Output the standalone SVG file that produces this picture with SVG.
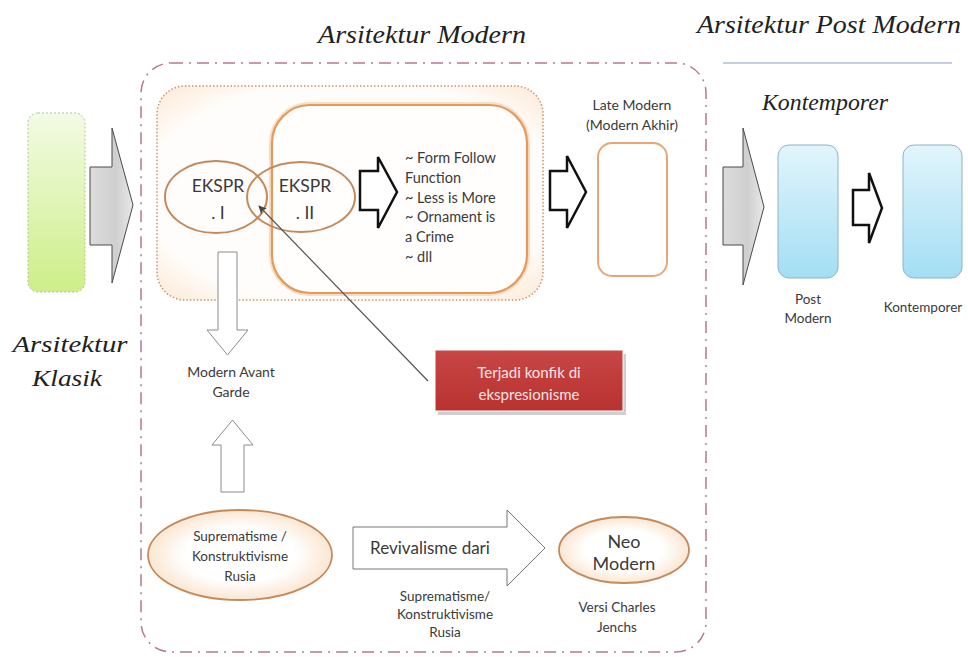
<svg xmlns="http://www.w3.org/2000/svg" width="968" height="657" viewBox="0 0 968 657">
<defs>
<style>
.t{font-family:Lato,"Open Sans","Liberation Sans",sans-serif;fill:#3a3a3a;text-anchor:middle}
.s{font-family:"Liberation Serif","DejaVu Serif",serif;font-style:italic;fill:#222;text-anchor:middle}
.hollow{fill:#fff;stroke:#111;stroke-width:2.5;stroke-linejoin:miter}
.thin{fill:#fff;stroke:#8c8c8c;stroke-width:1}
.gray{fill:url(#gGray);stroke:#4a4a4a;stroke-width:1}
.blue{fill:url(#gBlue);stroke:#8fb3c2;stroke-width:1}
.ell{fill:url(#gEll);stroke:#c58a5c;stroke-width:1.8}
</style>
<linearGradient id="gGreen" x1="0" y1="0" x2="0" y2="1"><stop offset="0" stop-color="#f3fbe4"/><stop offset="1" stop-color="#cdee88"/></linearGradient>
<linearGradient id="gBlue" x1="0" y1="0" x2="0" y2="1"><stop offset="0" stop-color="#e2f5fc"/><stop offset="1" stop-color="#a3def4"/></linearGradient>
<linearGradient id="gGray" x1="0" y1="0" x2="1" y2="0"><stop offset="0" stop-color="#dcdcdc"/><stop offset="0.6" stop-color="#cfcfcf"/><stop offset="1" stop-color="#e8e8e8"/></linearGradient>
<linearGradient id="gRed" x1="0" y1="0" x2="0" y2="1"><stop offset="0" stop-color="#c84646"/><stop offset="1" stop-color="#b8322f"/></linearGradient>
<radialGradient id="gEll" cx="0.5" cy="0.5" r="0.5"><stop offset="0.6" stop-color="#ffffff"/><stop offset="1" stop-color="#fbe6d2"/></radialGradient>
<radialGradient id="gDot" cx="0.5" cy="0.5" r="0.7"><stop offset="0.75" stop-color="#fffdfb"/><stop offset="1" stop-color="#fde9d6"/></radialGradient>
<marker id="ah" viewBox="0 0 10 10" refX="9" refY="5" markerWidth="7" markerHeight="7" orient="auto-start-reverse"><path d="M0,0 L10,5 L0,10 L3,5 Z" fill="#444"/></marker>
</defs>
<rect width="968" height="657" fill="#fff"/>

<!-- headings -->
<g id="titles">
<text class="s" x="422" y="43" font-size="26" textLength="208" lengthAdjust="spacingAndGlyphs">Arsitektur Modern</text>
<text class="s" x="829" y="33" font-size="26" textLength="264" lengthAdjust="spacingAndGlyphs">Arsitektur Post Modern</text>
<line x1="723" y1="63" x2="952" y2="63" stroke="#c3cfe0" stroke-width="2"/>
<text class="s" x="825" y="110" font-size="24" textLength="126" lengthAdjust="spacingAndGlyphs">Kontemporer</text>
<text class="s" x="70" y="352" font-size="24" textLength="115" lengthAdjust="spacingAndGlyphs">Arsitektur</text>
<text class="s" x="67" y="386" font-size="24" textLength="70" lengthAdjust="spacingAndGlyphs">Klasik</text>
</g>

<!-- containers -->
<g id="modern-container">
<rect x="141" y="63" width="565" height="589" rx="30" fill="none" stroke="#b57a8c" stroke-width="1.5" stroke-dasharray="12 6 2 6"/>
</g>
<g id="ekspresionisme-group">
<rect x="157" y="86" width="386" height="214" rx="28" fill="url(#gDot)" stroke="#cf9466" stroke-width="1.5" stroke-dasharray="1.5 2"/>
</g>
<g id="modern-box">
<rect x="272" y="105" width="255" height="188" rx="38" fill="none" stroke="#fbdcbf" stroke-width="6"/>
<rect x="272" y="105" width="255" height="188" rx="38" fill="#fffefd" stroke="#e39a5e" stroke-width="2.2"/>
<text class="t" x="405" y="163" font-size="14.5" text-anchor="start" style="text-anchor:start">~ Form Follow</text>
<text class="t" x="405" y="183" font-size="14.5" style="text-anchor:start">Function</text>
<text class="t" x="405" y="203" font-size="14.5" style="text-anchor:start">~ Less is More</text>
<text class="t" x="405" y="222" font-size="14.5" style="text-anchor:start">~ Ornament is</text>
<text class="t" x="405" y="242" font-size="14.5" style="text-anchor:start">a Crime</text>
<text class="t" x="405" y="262" font-size="14.5" style="text-anchor:start">~ dll</text>
</g>

<g id="klasik">
<rect x="28" y="113" width="57" height="179" rx="10" fill="url(#gGreen)" stroke="#a9c79a" stroke-width="1" stroke-dasharray="2 2"/>
</g>

<g id="ekspr1">
<ellipse cx="216" cy="197" rx="51" ry="36" fill="none" stroke="#c58a5c" stroke-width="2"/>
<text class="t" x="218" y="192" font-size="17.5">EKSPR</text>
<text class="t" x="218" y="219" font-size="17.5">. I</text>
</g>
<g id="ekspr2">
<ellipse cx="301" cy="197" rx="54" ry="35" fill="none" stroke="#c58a5c" stroke-width="2"/>
<text class="t" x="305" y="192" font-size="17.5">EKSPR</text>
<text class="t" x="305" y="219" font-size="17.5">. II</text>
</g>

<g id="late-modern">
<text class="t" x="632" y="110" font-size="14">Late Modern</text>
<text class="t" x="632" y="130" font-size="14">(Modern Akhir)</text>
<rect x="598" y="143" width="69" height="133" rx="14" fill="#fff" stroke="#e8a676" stroke-width="2"/>
</g>

<g id="post-modern">
<rect class="blue" x="778" y="145" width="60" height="133" rx="11"/>
<text class="t" x="808" y="304" font-size="13.5">Post</text>
<text class="t" x="808" y="323" font-size="13.5">Modern</text>
</g>
<g id="kontemporer">
<rect class="blue" x="903" y="145" width="59" height="133" rx="11"/>
<text class="t" x="923" y="312" font-size="13.5">Kontemporer</text>
</g>

<g id="avant-garde">
<text class="t" x="231" y="377" font-size="14">Modern Avant</text>
<text class="t" x="231" y="397" font-size="14">Garde</text>
</g>

<g id="konflik">
<rect x="438" y="354" width="188" height="61" fill="#cfcfcf"/>
<rect x="435" y="350" width="188" height="61" fill="url(#gRed)" stroke="#fff" stroke-width="1"/>
<text x="529" y="378" font-size="15" font-family="Lato,'Open Sans','Liberation Sans',sans-serif" fill="#fbe4e4" text-anchor="middle">Terjadi konfik di</text>
<text x="529" y="400" font-size="15" font-family="Lato,'Open Sans','Liberation Sans',sans-serif" fill="#fbe4e4" text-anchor="middle">ekspresionisme</text>
</g>

<g id="suprematisme">
<ellipse class="ell" cx="240" cy="555" rx="92" ry="45"/>
<text class="t" x="240" y="541" font-size="13.5">Suprematisme /</text>
<text class="t" x="240" y="561" font-size="13.5">Konstruktivisme</text>
<text class="t" x="240" y="581" font-size="13.5">Rusia</text>
</g>

<g id="neo-modern">
<ellipse class="ell" cx="624" cy="550" rx="65" ry="33"/>
<text class="t" x="624" y="548" font-size="18">Neo</text>
<text class="t" x="624" y="570" font-size="18">Modern</text>
<text class="t" x="617" y="612" font-size="13.5">Versi Charles</text>
<text class="t" x="617" y="632" font-size="13.5">Jenchs</text>
</g>

<g id="revivalisme-label">
<text class="t" x="445" y="601" font-size="13.5">Suprematisme/</text>
<text class="t" x="445" y="619" font-size="13.5">Konstruktivisme</text>
<text class="t" x="445" y="637" font-size="13.5">Rusia</text>
</g>

<g id="connectors">
<path class="gray" d="M90,167 H112 V128 L133,205 L112,283 V245 H90 Z"/>
<path class="gray" d="M723,167 H743 V128 L764,207 L743,285 V245 H723 Z"/>
<path class="hollow" d="M360,171 H378 V157 L397,192 L378,228 V210 H360 Z"/>
<path class="hollow" d="M550,171 H567 V156 L586,192 L567,228 V210 H550 Z"/>
<path class="hollow" d="M853,190 H869 V173 L882,208 L869,243 V225 H853 Z"/>
<path class="thin" d="M218,252 H237 V330 H248 L227.5,355 L207,330 H218 Z"/>
<path class="thin" d="M221,492 V445 H212 L232.5,420 L253,445 H244 V492 Z"/>
<path class="thin" d="M353,527 H507 V510 L545,548 L507,586 V569 H353 Z" style="stroke:#777"/>
<text class="t" x="430" y="554" font-size="17">Revivalisme dari</text>
<line x1="428" y1="381" x2="259" y2="206" stroke="#555" stroke-width="1.2" marker-end="url(#ah)"/>
</g>
</svg>
